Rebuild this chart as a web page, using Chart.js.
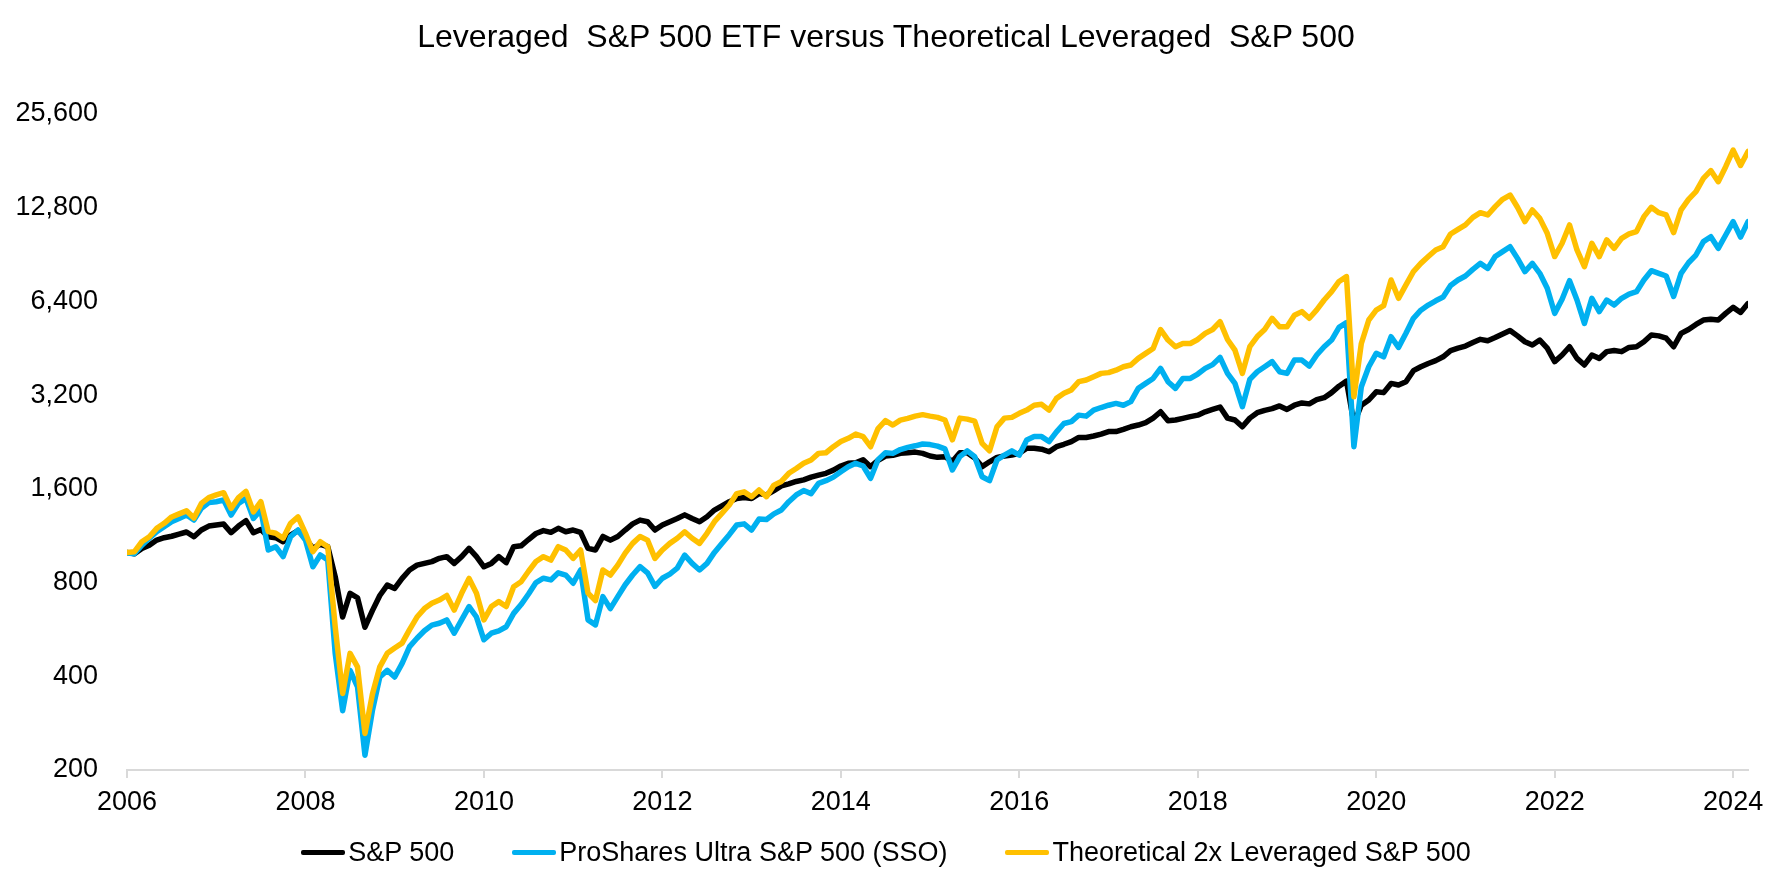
<!DOCTYPE html>
<html>
<head>
<meta charset="utf-8">
<script src="https://cdn.jsdelivr.net/npm/chart.js@4.4.1/dist/chart.umd.min.js"></script>
<style>
  html, body { margin: 0; padding: 0; background: #fff; }
  #wrap { position: relative; width: 1772px; height: 886px; }
  #title {
    position: absolute; left: 0; top: 16px; width: 1772px; height: 40px; line-height: 40px;
    text-align: center; white-space: pre;
    font-family: "Liberation Sans", Arial, sans-serif; font-size: 32px; color: #000;
  }
  #legend {
    position: absolute; left: 0; top: 837px; width: 1772px; height: 30px;
    display: flex; justify-content: center; align-items: center;
    font-family: "Liberation Sans", Arial, sans-serif; font-size: 27px; color: #000;
  }
  .item { display: flex; align-items: center; margin: 0 29px; white-space: nowrap; }
  .swatch { display: inline-block; width: 44px; height: 5px; border-radius: 2px; margin-right: 3px; }
</style>
</head>
<body>
<div id="wrap">
  <canvas id="chart" width="1772" height="886"></canvas>
  <div id="title">Leveraged  S&amp;P 500 ETF versus Theoretical Leveraged  S&amp;P 500</div>
  <div id="legend"></div>
</div>
<script>
// 月資料，x 為圖上的年份位置
const startYear = 2006;
const xTicks = [2006, 2008, 2010, 2012, 2014, 2016, 2018, 2020, 2022, 2024];
const yTicks = [200, 400, 800, 1600, 3200, 6400, 12800, 25600];

const seriesNames = ["S&P 500", "ProShares Ultra S&P 500 (SSO)", "Theoretical 2x Leveraged S&P 500"];
const seriesColors = ["#000000", "#00B0F0", "#FFC000"];

const sp500 = [
  1000, 990, 1030, 1055, 1096, 1115, 1127, 1145, 1163, 1123, 1180, 1215,
  1225, 1233, 1157, 1215, 1265, 1157, 1185, 1123, 1115, 1082, 1137, 1175,
  1110, 1030, 1062, 1043, 836, 620, 739, 715, 575, 650, 727, 785,
  766, 825, 878, 910, 922, 934, 957, 969, 922, 969, 1030, 969,
  899, 922, 969, 927, 1043, 1050, 1100, 1150, 1175, 1160, 1195, 1165,
  1180, 1160, 1030, 1018, 1125, 1095, 1125, 1180, 1235, 1270, 1255, 1180,
  1225, 1255, 1285, 1320, 1285, 1255, 1302, 1368, 1410, 1455, 1490, 1500,
  1490, 1545, 1530, 1580, 1635, 1660, 1690, 1710, 1745, 1770, 1795, 1838,
  1895, 1933, 1940, 1985, 1885, 1975, 2040, 2050, 2080, 2090, 2100, 2080,
  2040, 2020, 2030, 1960, 2090, 2090, 2010, 1886, 1955, 2020, 2040, 2055,
  2081, 2160, 2160, 2145, 2105, 2186, 2225, 2270, 2340, 2340, 2365, 2400,
  2445, 2445, 2485, 2533, 2565, 2610, 2700, 2830, 2650, 2662, 2695, 2730,
  2760, 2830, 2880, 2930, 2700, 2662, 2533, 2700, 2810, 2860, 2895, 2955,
  2880, 2970, 3020, 3000, 3095, 3140, 3260, 3420, 3550, 2600, 2970, 3087,
  3280, 3260, 3490, 3450, 3535, 3835, 3948, 4045, 4130, 4250, 4450, 4530,
  4600, 4720, 4835, 4785, 4900, 5030, 5160, 4960, 4750, 4635, 4810, 4530,
  4100, 4305, 4578, 4200, 4000, 4305, 4200, 4415, 4450, 4415, 4555, 4578,
  4750, 4990, 4960, 4875, 4578, 5055, 5200, 5400, 5578, 5610, 5578, 5860,
  6125, 5900, 6300
];

const sso = [
  995, 990, 1055, 1110, 1166, 1209, 1255, 1285, 1318, 1271, 1385, 1445,
  1455, 1473, 1318, 1437, 1490, 1285, 1368, 1018, 1043, 969, 1123, 1180,
  1096, 899, 981, 945, 474, 310, 418, 370, 223, 310, 398, 418,
  398, 440, 498, 530, 560, 584, 592, 607, 550, 607, 670, 620,
  524, 550, 560, 577, 637, 680, 735, 800, 826, 816, 860, 846,
  796, 878, 607, 585, 721, 660, 721, 787, 846, 900, 860, 778,
  826, 852, 890, 980, 922, 878, 922, 1000, 1069, 1140, 1225, 1235,
  1180, 1280, 1275, 1330, 1368, 1455, 1530, 1580, 1545, 1667, 1700, 1745,
  1815, 1885, 1933, 1895, 1730, 1985, 2090, 2080, 2140, 2175, 2200, 2230,
  2220, 2195, 2150, 1840, 2030, 2120, 2030, 1750, 1700, 1981, 2055, 2120,
  2055, 2296, 2355, 2355, 2270, 2440, 2595, 2630, 2760, 2740, 2865, 2920,
  2970, 3010, 2970, 3050, 3365, 3490, 3620, 3900, 3535, 3365, 3620, 3620,
  3740, 3900, 4010, 4230, 3759, 3490, 2937, 3595, 3805, 3948, 4100, 3805,
  3759, 4149, 4149, 3970, 4305, 4578, 4810, 5280, 5470, 2186, 3406, 3948,
  4359, 4250, 4930, 4555, 5055, 5650, 6000, 6230, 6430, 6610, 7200, 7500,
  7725, 8110, 8480, 8170, 8920, 9250, 9596, 8800, 7980, 8480, 7880, 7060,
  5860, 6500, 7460, 6467, 5440, 6550, 5935, 6467, 6230, 6550, 6760, 6880,
  7500, 8035, 7880, 7725, 6640, 7880, 8520, 9020, 9960, 10330, 9480, 10460,
  11550, 10300, 11550
];

const theo2x = [
  1000, 1005, 1082, 1123, 1195, 1240, 1300, 1330, 1360, 1290, 1437, 1500,
  1530, 1555, 1385, 1500, 1570, 1350, 1455, 1166, 1152, 1110, 1240, 1300,
  1152, 1005, 1082, 1043, 577, 352, 474, 429, 262, 350, 429, 474,
  493, 511, 565, 620, 660, 686, 703, 727, 653, 739, 825, 739,
  607, 670, 695, 670, 776, 805, 870, 935, 969, 945, 1043, 1018,
  957, 1018, 740, 700, 878, 846, 910, 995, 1069, 1125, 1095, 957,
  1018, 1069, 1110, 1165, 1110, 1069, 1152, 1255, 1335, 1420, 1545, 1565,
  1510, 1587, 1510, 1645, 1690, 1795, 1860, 1933, 1980, 2080, 2090, 2185,
  2270, 2325, 2400, 2354, 2185, 2500, 2650, 2565, 2660, 2695, 2740, 2770,
  2740, 2715, 2662, 2300, 2700, 2680, 2640, 2240, 2120, 2533, 2700, 2715,
  2797, 2865, 2970, 2990, 2865, 3125, 3243, 3325, 3535, 3578, 3668, 3759,
  3780, 3850, 3948, 4000, 4200, 4359, 4520, 5200, 4810, 4578, 4690, 4690,
  4830, 5055, 5200, 5510, 4830, 4465, 3759, 4578, 4935, 5200, 5650, 5307,
  5307, 5780, 5935, 5650, 6010, 6467, 6880, 7420, 7690, 3160, 4690, 5578,
  6000, 6200, 7500, 6550, 7230, 7980, 8480, 8920, 9365, 9596, 10540, 10900,
  11270, 11920, 12340, 12130, 12900, 13620, 14060, 12840, 11550, 12590, 11830, 10594,
  8920, 9840, 11270, 9365, 8278, 9840, 8920, 10085, 9480, 10210, 10540, 10730,
  11980, 12840, 12340, 12130, 10650, 12590, 13620, 14410, 15910, 16850, 15520, 17340,
  19600, 17500, 19400
];

const fontFamily = '"Liberation Sans", Arial, sans-serif';

function toPoints(values) {
  return values.map((v, i) => ({ x: startYear + i / 12, y: v }));
}

const allSeries = [sp500, sso, theo2x];
const datasets = allSeries.map((values, k) => ({
  label: seriesNames[k],
  data: toPoints(values),
  borderColor: seriesColors[k],
  backgroundColor: seriesColors[k],
  borderWidth: 5.5,
  borderJoinStyle: "round",
  borderCapStyle: "round",
  pointRadius: 0,
  tension: 0,
  order: 2 - k // 後面的系列畫在上層
}));

const chart = new Chart(document.getElementById("chart"), {
  type: "line",
  data: { datasets: datasets },
  options: {
    responsive: false,
    animation: false,
    devicePixelRatio: 1,
    layout: { padding: { top: 114, left: 0, right: 24, bottom: 68 } },
    plugins: {
      legend: { display: false },
      tooltip: { enabled: false },
      title: { display: false }
    },
    scales: {
      x: {
        type: "linear",
        min: startYear,
        max: startYear + (sp500.length - 1) / 12,
        afterBuildTicks: s => { s.ticks = xTicks.map(v => ({ value: v })); },
        afterFit: s => { s.height = 48; },
        ticks: {
          color: "#000",
          font: { family: fontFamily, size: 27 },
          padding: 8,
          maxRotation: 0,
          autoSkip: false,
          callback: v => String(v)
        },
        grid: { drawOnChartArea: false, drawTicks: true, tickLength: 8, color: "#d9d9d9", lineWidth: 2 },
        border: { display: true, color: "#d9d9d9", width: 2 }
      },
      y: {
        type: "logarithmic",
        min: 200,
        max: 25600,
        afterBuildTicks: s => { s.ticks = yTicks.map(v => ({ value: v })); },
        afterFit: s => { s.width = 127; },
        ticks: {
          color: "#000",
          font: { family: fontFamily, size: 27 },
          padding: 29,
          autoSkip: false,
          callback: v => Number(v).toLocaleString("en-US")
        },
        grid: { display: false, drawTicks: false },
        border: { display: false }
      }
    }
  }
});

// 自訂圖例（線段與文字間距較小）
const legendEl = document.getElementById("legend");
seriesNames.forEach((name, k) => {
  const item = document.createElement("div");
  item.className = "item";
  const sw = document.createElement("span");
  sw.className = "swatch";
  sw.style.background = seriesColors[k];
  const txt = document.createElement("span");
  txt.textContent = name;
  item.appendChild(sw);
  item.appendChild(txt);
  legendEl.appendChild(item);
});
</script>
</body>
</html>
